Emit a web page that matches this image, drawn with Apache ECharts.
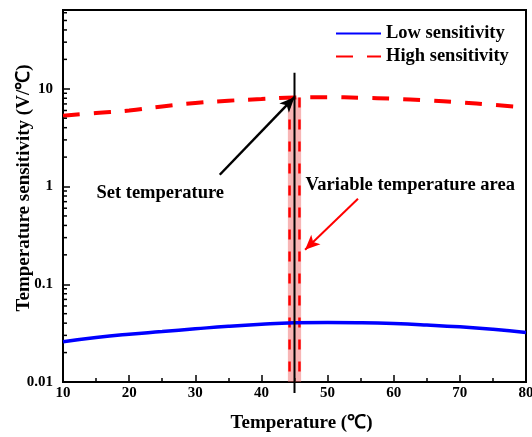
<!DOCTYPE html>
<html>
<head>
<meta charset="utf-8">
<script src="https://cdn.jsdelivr.net/npm/echarts@6/dist/echarts.min.js"></script>
<style>
    html, body { margin: 0; padding: 0; background: #fff; }
    #chart { width: 532px; height: 437px; }
</style>
</head>
<body>
<div id="chart"></div>
<script>
    // data
    const temps = [10, 15, 20, 25, 30, 35, 40, 45, 50, 55, 60, 65, 70, 75, 80];
    const lowSens = [0.0258, 0.0285, 0.0308, 0.0328, 0.0350, 0.0372, 0.0390, 0.0403, 0.0407, 0.0404, 0.0396, 0.0383, 0.0367, 0.0346, 0.0321];
    const highSens = [5.3, 5.65, 6.0, 6.6, 7.15, 7.55, 7.85, 8.15, 8.2, 8.1, 7.9, 7.6, 7.25, 6.85, 6.45];
    const yTickLabels = ['0.01', '0.1', '1', '10'];
    const yMinorTicks = [0.02, 0.03, 0.04, 0.05, 0.06, 0.07, 0.08, 0.09,
        0.2, 0.3, 0.4, 0.5, 0.6, 0.7, 0.8, 0.9,
        2, 3, 4, 5, 6, 7, 8, 9, 20, 30, 40, 50, 60];

    // annotations
    const setTemp = 45;
    const setLineTop = 14.6;
    const bandRange = [44, 46];
    const bandEdges = [44.25, 45.75];
    const setArrow = [[33.7, 1.32], [45, 8.2]];
    const areaArrow = [[54.6, 0.75], [46.6, 0.225]];
    const noteTexts = ['Set temperature', 'Variable temperature area'];
    const notePos = [[24.7, 0.86], [62.5, 1.04]];

    const font = "'Liberation Serif', 'Times New Roman', serif";
    const bandTop = highSens[temps.indexOf(setTemp)];

    const chart = echarts.init(document.getElementById('chart'));
    chart.setOption({
        animation: false,
        grid: {
            left: 63, right: 6, top: 10, bottom: 55,
            outerBoundsMode: 'none',
            show: true, borderColor: '#000', borderWidth: 2
        },
        legend: {
            orient: 'vertical',
            left: 330,
            top: 19,
            itemWidth: 45,
            itemHeight: 14,
            itemGap: 4,
            data: ['Low sensitivity', 'High sensitivity'],
            itemStyle: {opacity: 0},
            textStyle: {fontFamily: font, fontWeight: 'bold', fontSize: 18.5, color: '#000'}
        },
        xAxis: {
            type: 'value',
            min: 10, max: 80, interval: 10,
            name: 'Temperature (\u2103)',
            nameLocation: 'middle',
            nameGap: 32,
            nameMoveOverlap: false,
            nameTextStyle: {fontFamily: font, fontWeight: 'bold', fontSize: 19, color: '#000', padding: [0, 0, 0, 14]},
            axisLine: {lineStyle: {color: '#000', width: 2}},
            axisTick: {inside: true, length: 7, lineStyle: {color: '#000', width: 1.5}},
            minorTick: {show: true, splitNumber: 2, length: 4, lineStyle: {color: '#000', width: 1.5}},
            axisLabel: {margin: 4, fontFamily: font, fontWeight: 'bold', fontSize: 15, color: '#000'},
            splitLine: {show: false}
        },
        yAxis: {
            type: 'log',
            logBase: 10,
            min: 0.01, max: 64,
            name: 'Temperature sensitivity (V/\u2103)',
            nameLocation: 'middle',
            nameGap: 29,
            nameMoveOverlap: false,
            nameTextStyle: {fontFamily: font, fontWeight: 'bold', fontSize: 19, color: '#000', padding: [0, 0, 0, 16]},
            axisLine: {lineStyle: {color: '#000', width: 2}},
            axisTick: {inside: true, length: 7, lineStyle: {color: '#000', width: 1.5}},
            axisLabel: {
                margin: 10, fontFamily: font, fontWeight: 'bold', fontSize: 15, color: '#000',
                showMaxLabel: false,
                formatter: function (v) {
                    const i = Math.round(Math.log10(v)) + 2;
                    return Math.abs(Math.log10(v) - (i - 2)) < 1e-6 && yTickLabels[i] ? yTickLabels[i] : '';
                }
            },
            splitLine: {show: false}
        },
        series: [
            {
                name: 'band',
                type: 'custom',
                z: 1,
                clip: false,
                data: [[bandRange[0], bandRange[1], bandTop]],
                renderItem: function (params, api) {
                    const a = api.coord([api.value(0), api.value(2)]);
                    const b = api.coord([api.value(1), 0.01]);
                    const l = api.coord([bandEdges[0], bandTop]);
                    const r = api.coord([bandEdges[1], bandTop]);
                    const dash = {stroke: '#ff0000', lineWidth: 2.5, lineDash: [10, 12], fill: null};
                    return {
                        type: 'group',
                        children: [
                            {type: 'rect', shape: {x: a[0], y: a[1], width: b[0] - a[0], height: b[1] - a[1]},
                                style: {fill: 'rgba(240, 90, 90, 0.45)'}},
                            {type: 'line', shape: {x1: l[0], y1: l[1], x2: l[0], y2: b[1]}, style: dash},
                            {type: 'line', shape: {x1: r[0], y1: r[1], x2: r[0], y2: b[1]}, style: dash}
                        ]
                    };
                }
            },
            {
                name: 'Low sensitivity',
                type: 'line',
                z: 3,
                data: temps.map((t, i) => [t, lowSens[i]]),
                smooth: true,
                showSymbol: false,
                symbol: 'none',
                color: '#0000ff',
                lineStyle: {color: '#0000ff', width: 3.5}
            },
            {
                name: 'High sensitivity',
                type: 'line',
                z: 3,
                data: temps.map((t, i) => [t, highSens[i]]),
                smooth: true,
                showSymbol: false,
                symbol: 'none',
                color: '#ff0000',
                lineStyle: {color: '#ff0000', width: 4, type: [17, 14]}
            },
            {
                name: 'setLine',
                type: 'custom',
                z: 5,
                clip: false,
                data: [[setTemp, setLineTop]],
                renderItem: function (params, api) {
                    const top = api.coord([api.value(0), api.value(1)]);
                    const bot = api.coord([api.value(0), 0.01]);
                    return {type: 'line', shape: {x1: top[0], y1: top[1], x2: bot[0], y2: bot[1] + 11},
                        style: {stroke: '#000', lineWidth: 2}};
                }
            },
            {
                name: 'minorTicks',
                type: 'custom',
                z: 5,
                clip: false,
                data: yMinorTicks.map(v => [10, v]),
                renderItem: function (params, api) {
                    const p = api.coord([api.value(0), api.value(1)]);
                    return {type: 'line', shape: {x1: p[0], y1: p[1], x2: p[0] + 4, y2: p[1]},
                        style: {stroke: '#000', lineWidth: 1.5}};
                }
            },
            {
                name: 'notes',
                type: 'custom',
                z: 6,
                clip: false,
                data: notePos,
                renderItem: function (params, api) {
                    const p = api.coord([api.value(0), api.value(1)]);
                    return {type: 'text', x: p[0], y: p[1],
                        style: {text: noteTexts[params.dataIndex], fill: '#000', align: 'center', verticalAlign: 'middle',
                            font: 'bold 18.5px ' + font}};
                }
            },
            {
                name: 'setArrow',
                type: 'line',
                data: [],
                z: 6,
                markLine: {
                    silent: true,
                    symbol: ['none', 'arrow'],
                    symbolSize: [10, 15],
                    label: {show: false},
                    lineStyle: {color: '#000', width: 2.5, type: 'solid'},
                    data: [[{coord: setArrow[0]}, {coord: setArrow[1]}]]
                }
            },
            {
                name: 'areaArrow',
                type: 'line',
                data: [],
                z: 6,
                markLine: {
                    silent: true,
                    symbol: ['none', 'arrow'],
                    symbolSize: [10, 15],
                    label: {show: false},
                    lineStyle: {color: '#ff0000', width: 2, type: 'solid'},
                    data: [[{coord: areaArrow[0]}, {coord: areaArrow[1]}]]
                }
            }
        ]
    });
</script>
</body>
</html>
